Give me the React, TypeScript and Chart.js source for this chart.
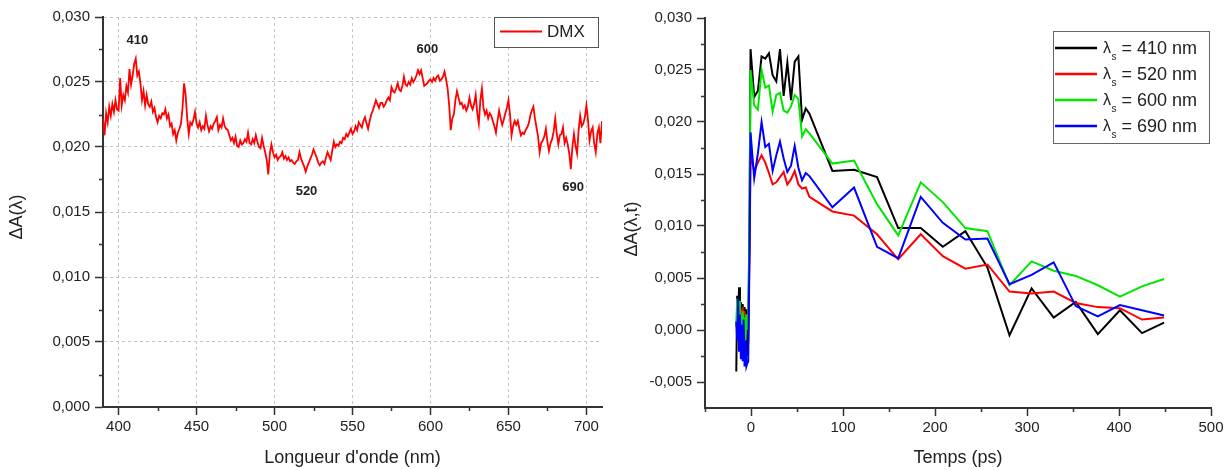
import React, { useEffect, useRef } from "react";
import { Chart, registerables } from "chart.js";
Chart.register(...registerables);

const FONT = '"Liberation Sans", Arial, sans-serif';
const TEXT = "#222222";
const AXIS = "#333333";

// ---------- Left panel: DMX transient spectrum ----------
const wavelengthStartNm = 390;
const wavelengthStepNm = 1;
const dmxSpectrum = [
  0.0222, 0.0209, 0.0226, 0.0219, 0.0231, 0.0224, 0.0233, 0.0227, 0.0236, 0.0229,
  0.0228, 0.0253, 0.0232, 0.0240, 0.0236, 0.0247, 0.0242, 0.0260, 0.0248, 0.0255,
  0.0264, 0.0268, 0.0255, 0.0258, 0.0249, 0.0236, 0.0243, 0.0232, 0.0240, 0.0233,
  0.0231, 0.0235, 0.0227, 0.0230, 0.0223, 0.0219, 0.0224, 0.0222, 0.0226, 0.0225,
  0.0229, 0.0222, 0.0225, 0.0216, 0.0218, 0.0210, 0.0213, 0.0205, 0.0211, 0.0214,
  0.0218, 0.0230, 0.0249, 0.0240, 0.0222, 0.0210, 0.0219, 0.0217, 0.0221, 0.0227,
  0.0218, 0.0215, 0.0219, 0.0213, 0.0216, 0.0214, 0.0224, 0.0217, 0.0212, 0.0216,
  0.0214, 0.0218, 0.0220, 0.0223, 0.0213, 0.0217, 0.0215, 0.0222, 0.0216, 0.0214,
  0.0213, 0.0209, 0.0205, 0.0207, 0.0203, 0.0208, 0.0201, 0.0200, 0.0205, 0.0202,
  0.0203, 0.0206, 0.0204, 0.0211, 0.0203, 0.0202, 0.0206, 0.0203, 0.0209, 0.0204,
  0.0200, 0.0199, 0.0207, 0.0201, 0.0196, 0.0190, 0.0179, 0.0195, 0.0202, 0.0196,
  0.0192, 0.0194, 0.0190, 0.0192, 0.0193, 0.0196, 0.0191, 0.0193, 0.0190, 0.0192,
  0.0189, 0.0190, 0.0188, 0.0187, 0.0189, 0.0190, 0.0196, 0.0191, 0.0188, 0.0185,
  0.0181, 0.0185, 0.0188, 0.0191, 0.0194, 0.0198, 0.0195, 0.0192, 0.0188, 0.0186,
  0.0188, 0.0189, 0.0187, 0.0192, 0.0196, 0.0193, 0.0190, 0.0197, 0.0204, 0.0200,
  0.0202, 0.0201, 0.0204, 0.0203, 0.0207, 0.0206, 0.0210, 0.0208, 0.0211, 0.0214,
  0.0210, 0.0212, 0.0216, 0.0213, 0.0219, 0.0217, 0.0215, 0.0220, 0.0223, 0.0218,
  0.0214, 0.0220, 0.0225, 0.0228, 0.0232, 0.0236, 0.0233, 0.0230, 0.0234, 0.0234,
  0.0231, 0.0233, 0.0236, 0.0238, 0.0236, 0.0246, 0.0243, 0.0242, 0.0245, 0.0249,
  0.0244, 0.0243, 0.0247, 0.0254, 0.0248, 0.0247, 0.0250, 0.0248, 0.0253, 0.0250,
  0.0252, 0.0255, 0.0259, 0.0256, 0.0259, 0.0253, 0.0247, 0.0248, 0.0249, 0.0251,
  0.0252, 0.0250, 0.0253, 0.0251, 0.0254, 0.0255, 0.0251, 0.0252, 0.0254, 0.0258,
  0.0252, 0.0245, 0.0232, 0.0213, 0.0222, 0.0225, 0.0236, 0.0243, 0.0238, 0.0233,
  0.0234, 0.0230, 0.0232, 0.0228, 0.0231, 0.0238, 0.0232, 0.0229, 0.0233, 0.0240,
  0.0226, 0.0218, 0.0236, 0.0245, 0.0230, 0.0225, 0.0228, 0.0222, 0.0226, 0.0224,
  0.0220, 0.0216, 0.0211, 0.0220, 0.0228, 0.0222, 0.0217, 0.0221, 0.0226, 0.0230,
  0.0236, 0.0225, 0.0209, 0.0216, 0.0220, 0.0217, 0.0220, 0.0214, 0.0209, 0.0211,
  0.0210, 0.0213, 0.0215, 0.0218, 0.0224, 0.0228, 0.0231, 0.0222, 0.0215, 0.0208,
  0.0196, 0.0203, 0.0205, 0.0208, 0.0214, 0.0204, 0.0197, 0.0203, 0.0206, 0.0212,
  0.0222, 0.0210, 0.0202, 0.0209, 0.0210, 0.0215, 0.0203, 0.0207, 0.0202, 0.0195,
  0.0183, 0.0200, 0.0210, 0.0201, 0.0195, 0.0213, 0.0224, 0.0216, 0.0218, 0.0223,
  0.0232, 0.0221, 0.0205, 0.0212, 0.0215, 0.0203, 0.0196, 0.0210, 0.0215, 0.0203,
  0.0220,
];
const wavelengthsNm = dmxSpectrum.map((_, i) => wavelengthStartNm + i * wavelengthStepNm);

const spectrumXMajor = [400, 450, 500, 550, 600, 650, 700];
const spectrumXMinor = [425, 475, 525, 575, 625, 675];
const spectrumYMajor = [0, 0.005, 0.01, 0.015, 0.02, 0.025, 0.03];
const spectrumYMinor = [0.0025, 0.0075, 0.0125, 0.0175, 0.0225, 0.0275];

const peakNames = ["410", "520", "600", "690"];
const peakLabelNm = [412, 520.5, 598, 691.5];
const peakLabelDA = [0.0282, 0.0166, 0.0275, 0.0169];

// ---------- Right panel: kinetics ----------
const delayPs = [
  -16, -15, -14, -13, -12, -11, -10, -9, -8, -7, -6, -5, -4, -3,
  -1.5,
  -0.5, 3.5, 7.5, 11.5, 15.5, 19.5, 23.5, 27.5, 31.5, 35.5, 39.5, 43.5, 47.5, 51.5, 55.5, 59.5, 63.5,
  88.5, 112, 137, 160, 184.5, 208.5, 233, 257, 281, 305, 329, 353, 377, 401, 425, 449,
];
const kinetic410 = [
  -0.0040, 0.0033, 0.0010, 0.0041, -0.0015, 0.0027, -0.0010, 0.0025, -0.0020, 0.0022, 0.0000, 0.0020, -0.0025, -0.0010,
  0.0120,
  0.0270, 0.0224, 0.0230, 0.0263, 0.0261, 0.0266, 0.0245, 0.0239, 0.0270, 0.0225, 0.0257, 0.0221, 0.0258, 0.0263, 0.0202, 0.0213, 0.0208,
  0.0153, 0.0154, 0.0147, 0.0098, 0.0098, 0.0080, 0.0095, 0.0060, -0.0005, 0.0040, 0.0012, 0.0027, -0.0004, 0.0019, -0.0003, 0.0007,
];
const kinetic520 = [
  0.0003, 0.0010, -0.0005, 0.0015, -0.0008, 0.0020, -0.0010, 0.0022, 0.0000, 0.0018, -0.0005, 0.0010, 0.0008, 0.0005,
  0.0080,
  0.0168, 0.0153, 0.0161, 0.0168, 0.0161, 0.0151, 0.0140, 0.0142, 0.0147, 0.0152, 0.0140, 0.0145, 0.0153, 0.0140, 0.0136, 0.0137, 0.0128,
  0.0114, 0.0110, 0.0092, 0.0068, 0.0092, 0.0071, 0.0059, 0.0063, 0.0037, 0.0035, 0.0037, 0.0026, 0.0022, 0.0021, 0.0010, 0.0012,
];
const kinetic600 = [
  0.0005, 0.0030, -0.0005, 0.0028, 0.0000, 0.0015, -0.0015, 0.0018, -0.0005, 0.0012, -0.0010, 0.0015, 0.0005, 0.0000,
  0.0125,
  0.0250, 0.0216, 0.0212, 0.0250, 0.0233, 0.0235, 0.0210, 0.0226, 0.0228, 0.0211, 0.0209, 0.0215, 0.0226, 0.0222, 0.0186, 0.0193, 0.0189,
  0.0160, 0.0163, 0.0121, 0.0091, 0.0142, 0.0123, 0.0098, 0.0095, 0.0043, 0.0066, 0.0057, 0.0052, 0.0043, 0.0032, 0.0042, 0.0049,
];
const kinetic690 = [
  0.0008, -0.0010, 0.0030, -0.0020, 0.0015, -0.0028, 0.0005, -0.0030, 0.0010, -0.0035, -0.0010, -0.0035, -0.0032, -0.0030,
  0.0080,
  0.0190, 0.0146, 0.0170, 0.0200, 0.0176, 0.0179, 0.0153, 0.0168, 0.0181, 0.0165, 0.0152, 0.0158, 0.0177, 0.0156, 0.0144, 0.0151, 0.0148,
  0.0118, 0.0137, 0.0080, 0.0069, 0.0128, 0.0103, 0.0087, 0.0088, 0.0044, 0.0053, 0.0065, 0.0023, 0.0013, 0.0024, 0.0019, 0.0014,
];
const kineticNames = ["410", "520", "600", "690"];
const kineticColors = ["#000000", "#ff0000", "#00e600", "#0000ff"];

const kineticsXMajor = [0, 100, 200, 300, 400, 500];
const kineticsXMinor = [-50, 50, 150, 250, 350, 450];
const kineticsYMajor = [-0.005, 0, 0.005, 0.01, 0.015, 0.02, 0.025, 0.03];
const kineticsYMinor = [-0.0025, 0.0025, 0.0075, 0.0125, 0.0175, 0.0225, 0.0275];

// ---------- helpers ----------
const fmtComma = (v: number) => Number(v).toFixed(3).replace(".", ",");

function drawMinorTicks(chart: any, axisId: string, values: number[], len: number) {
  const scale = chart.scales[axisId];
  const ctx = chart.ctx;
  ctx.save();
  ctx.strokeStyle = AXIS;
  ctx.lineWidth = 1.5;
  values.forEach((v) => {
    const p = Math.round(scale.getPixelForValue(v)) + 0.5;
    ctx.beginPath();
    if (scale.isHorizontal()) {
      ctx.moveTo(p, scale.top);
      ctx.lineTo(p, scale.top + len);
    } else {
      ctx.moveTo(scale.right, p);
      ctx.lineTo(scale.right - len, p);
    }
    ctx.stroke();
  });
  ctx.restore();
}

function drawYTitle(chart: any, text: string, x: number, y: number) {
  const ctx = chart.ctx;
  ctx.save();
  ctx.translate(x, y);
  ctx.rotate(-Math.PI / 2);
  ctx.font = `18px ${FONT}`;
  ctx.fillStyle = TEXT;
  ctx.textAlign = "center";
  ctx.textBaseline = "middle";
  ctx.fillText(text, 0, 0);
  ctx.restore();
}

function axisCommon(opts: {
  min: number; max: number; majors: number[]; size: number; horizontal: boolean;
  title: string; titlePad: any; fmt: (v: number) => string; grid: boolean;
}) {
  return {
    type: "linear",
    min: opts.min,
    max: opts.max,
    afterBuildTicks: (s: any) => {
      s.ticks = opts.majors.map((value) => ({ value }));
    },
    afterFit: (s: any) => {
      if (opts.horizontal) s.height = opts.size;
      else s.width = opts.size;
    },
    ticks: {
      font: { family: FONT, size: 15 },
      color: TEXT,
      padding: opts.horizontal ? 3 : 5,
      maxRotation: 0,
      autoSkip: false,
      callback: (v: any) => opts.fmt(v),
    },
    grid: {
      display: true,
      drawOnChartArea: opts.grid,
      color: "#c4c4c4",
      lineWidth: 1,
      drawTicks: true,
      tickLength: 8,
      tickColor: AXIS,
      tickWidth: 1.5,
    },
    border: { display: true, color: AXIS, width: 2, dash: [3, 3] },
    title: {
      display: opts.horizontal,
      text: opts.title,
      font: { family: FONT, size: 18 },
      color: TEXT,
      padding: opts.titlePad,
    },
  };
}

const spectrumPlugin = {
  id: "spectrumExtras",
  afterDraw(chart: any) {
    drawMinorTicks(chart, "x", spectrumXMinor, 4);
    drawMinorTicks(chart, "y", spectrumYMinor, 4);
    drawYTitle(chart, "ΔA(λ)", 17, 217);
    const ctx = chart.ctx;
    const xs = chart.scales.x;
    const ys = chart.scales.y;
    ctx.save();
    ctx.font = `bold 13px ${FONT}`;
    ctx.fillStyle = TEXT;
    ctx.textAlign = "center";
    ctx.textBaseline = "middle";
    peakNames.forEach((name, i) => {
      ctx.fillText(name, xs.getPixelForValue(peakLabelNm[i]), ys.getPixelForValue(peakLabelDA[i]));
    });
    // legend
    ctx.fillStyle = "#ffffff";
    ctx.fillRect(494.5, 17.5, 104, 30);
    ctx.strokeStyle = "#555555";
    ctx.lineWidth = 1;
    ctx.strokeRect(494.5, 17.5, 104, 30);
    ctx.strokeStyle = "#ff0000";
    ctx.lineWidth = 2;
    ctx.beginPath();
    ctx.moveTo(500, 31.5);
    ctx.lineTo(542, 31.5);
    ctx.stroke();
    ctx.fillStyle = TEXT;
    ctx.font = `17px ${FONT}`;
    ctx.textAlign = "left";
    ctx.fillText("DMX", 547, 32.5);
    ctx.restore();
  },
};

const kineticsPlugin = {
  id: "kineticsExtras",
  afterDraw(chart: any) {
    drawMinorTicks(chart, "x", kineticsXMinor, 4);
    drawMinorTicks(chart, "y", kineticsYMinor, 4);
    drawYTitle(chart, "ΔA(λ,t)", 12.5, 229);
    const ctx = chart.ctx;
    ctx.save();
    ctx.fillStyle = "#ffffff";
    ctx.fillRect(433.5, 31.5, 156, 112);
    ctx.strokeStyle = "#666666";
    ctx.lineWidth = 1;
    ctx.strokeRect(433.5, 31.5, 156, 112);
    const rows = [48, 74, 100, 126];
    kineticNames.forEach((name, i) => {
      const y = rows[i];
      ctx.strokeStyle = kineticColors[i];
      ctx.lineWidth = 2.5;
      ctx.beginPath();
      ctx.moveTo(435, y);
      ctx.lineTo(477, y);
      ctx.stroke();
      ctx.fillStyle = TEXT;
      ctx.textAlign = "left";
      ctx.textBaseline = "middle";
      ctx.font = `16px ${FONT}`;
      ctx.fillText("λ", 483, y + 1);
      ctx.font = `10px ${FONT}`;
      ctx.fillText("s", 491.5, y + 9);
      ctx.font = `18px ${FONT}`;
      ctx.fillText(`= ${name} nm`, 501.5, y + 1);
    });
    ctx.restore();
  },
};

function SpectrumChart() {
  const ref = useRef<HTMLCanvasElement | null>(null);
  useEffect(() => {
    if (!ref.current) return;
    const chart = new Chart(ref.current, {
      type: "line",
      data: {
        datasets: [
          {
            label: "DMX",
            data: wavelengthsNm.map((x, i) => ({ x, y: dmxSpectrum[i] })),
            borderColor: "#ff0000",
            borderWidth: 1.8,
            pointRadius: 0,
            tension: 0,
            fill: false,
          },
        ],
      },
      options: {
        animation: false,
        responsive: false,
        devicePixelRatio: 1,
        layout: { padding: { left: 0, top: 17, right: 18, bottom: 0 } },
        plugins: { legend: { display: false }, tooltip: { enabled: false } },
        scales: {
          x: axisCommon({
            min: 390, max: 710, majors: spectrumXMajor, size: 63, horizontal: true,
            title: "Longueur d'onde (nm)", titlePad: { top: 0, bottom: 1 }, fmt: (v) => String(v), grid: true,
          }),
          y: axisCommon({
            min: 0, max: 0.03, majors: spectrumYMajor, size: 103, horizontal: false,
            title: "ΔA(λ)", titlePad: { top: 6, bottom: 0 }, fmt: fmtComma, grid: true,
          }),
        },
      } as any,
      plugins: [spectrumPlugin],
    });
    return () => chart.destroy();
  }, []);
  return <canvas ref={ref} width={620} height={470} style={{ display: "block" }} />;
}

function KineticsChart() {
  const ref = useRef<HTMLCanvasElement | null>(null);
  useEffect(() => {
    if (!ref.current) return;
    const series = [kinetic410, kinetic520, kinetic600, kinetic690];
    const chart = new Chart(ref.current, {
      type: "line",
      data: {
        datasets: series.map((vals, i) => ({
          label: `λs = ${kineticNames[i]} nm`,
          data: delayPs.map((x, j) => ({ x, y: vals[j] })),
          borderColor: kineticColors[i],
          borderWidth: 2,
          pointRadius: 0,
          tension: 0,
          fill: false,
          order: 4 - i,
        })),
      },
      options: {
        animation: false,
        responsive: false,
        devicePixelRatio: 1,
        layout: { padding: { left: 0, top: 18, right: 17, bottom: 0 } },
        plugins: { legend: { display: false }, tooltip: { enabled: false } },
        scales: {
          x: axisCommon({
            min: -50, max: 500, majors: kineticsXMajor, size: 62, horizontal: true,
            title: "Temps (ps)", titlePad: { top: 0, bottom: 1 }, fmt: (v) => String(v), grid: false,
          }),
          y: axisCommon({
            min: -0.0075, max: 0.03, majors: kineticsYMajor, size: 85, horizontal: false,
            title: "ΔA(λ,t)", titlePad: { top: 2, bottom: 0 }, fmt: fmtComma, grid: false,
          }),
        },
      } as any,
      plugins: [kineticsPlugin],
    });
    return () => chart.destroy();
  }, []);
  return <canvas ref={ref} width={608} height={470} style={{ display: "block" }} />;
}

export default function App() {
  return (
    <div style={{ position: "absolute", left: 0, top: 0, width: 1228, height: 470, background: "#ffffff" }}>
      <div style={{ position: "absolute", left: 0, top: 0, width: 620, height: 470 }}>
        <SpectrumChart />
      </div>
      <div style={{ position: "absolute", left: 620, top: 0, width: 608, height: 470 }}>
        <KineticsChart />
      </div>
    </div>
  );
}
